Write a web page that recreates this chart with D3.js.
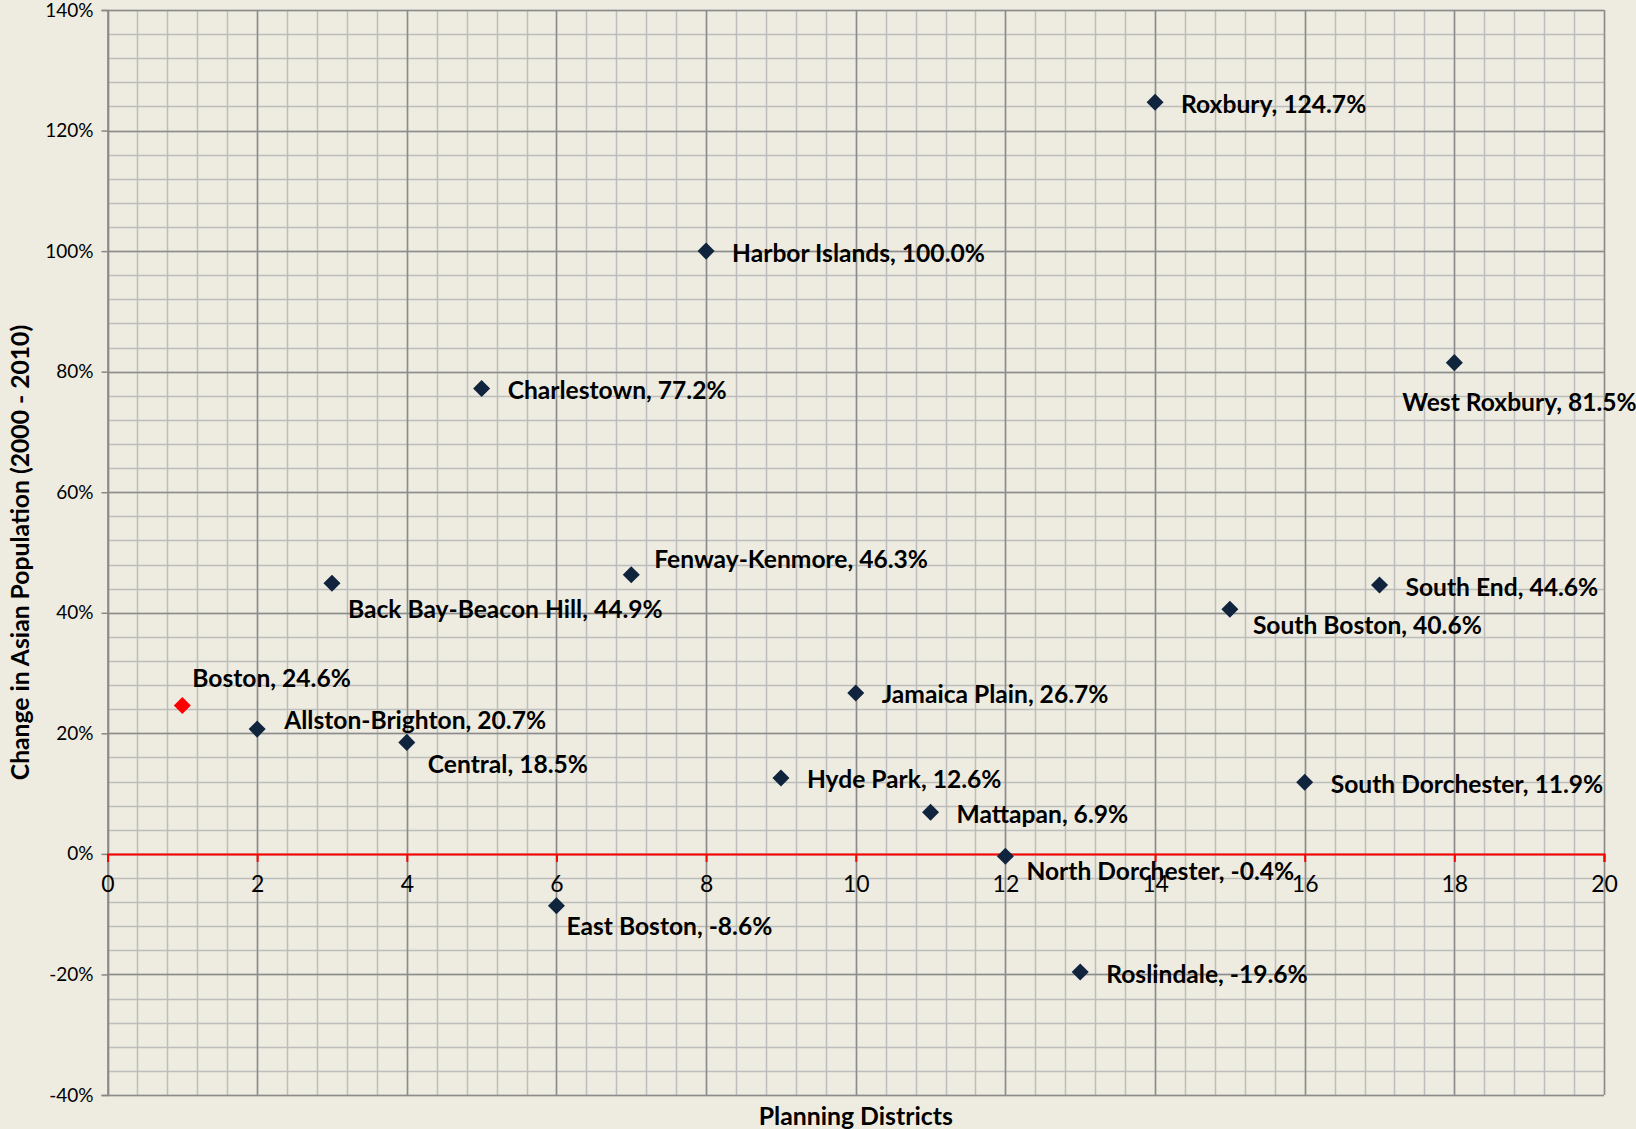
<!DOCTYPE html>
<html>
<head>
<meta charset="utf-8">
<script src="https://cdn.jsdelivr.net/npm/d3@7"></script>
<style>
  html, body { margin: 0; padding: 0; background: #EEECE1; overflow: hidden; }
  svg { display: block; }
</style>
</head>
<body>
<svg id="chart" width="1636" height="1129"></svg>
<script>
// ---- data ----
const districts = ["Boston", "Allston-Brighton", "Back Bay-Beacon Hill", "Central", "Charlestown",
  "East Boston", "Fenway-Kenmore", "Harbor Islands", "Hyde Park", "Jamaica Plain", "Mattapan",
  "North Dorchester", "Roslindale", "Roxbury", "South Boston", "South Dorchester", "South End", "West Roxbury"];
const xValues = [1, 2, 3, 4, 5, 6, 7, 8, 9, 10, 11, 12, 13, 14, 15, 16, 17, 18];
const changePct = [24.6, 20.7, 44.9, 18.5, 77.2, -8.6, 46.3, 100.0, 12.6, 26.7, 6.9,
  -0.4, -19.6, 124.7, 40.6, 11.9, 44.6, 81.5];
const xTicks = [0, 2, 4, 6, 8, 10, 12, 14, 16, 18, 20];
const yTicks = [-40, -20, 0, 20, 40, 60, 80, 100, 120, 140];
const xTitle = "Planning Districts";
const yTitle = "Change in Asian Population (2000 - 2010)";

// label placement (pixel offsets from marker), layout only
const labelOffsets = {
  "Boston": [10, -28], "Allston-Brighton": [27, -10], "Back Bay-Beacon Hill": [16, 25],
  "Central": [21, 21], "East Boston": [10, 20], "Fenway-Kenmore": [23, -16],
  "North Dorchester": [21, 14], "South Boston": [23, 15], "West Roxbury": [-52, 39]
};
const defaultOffset = [26, 1];

// ---- layout ----
const svg = d3.select("#chart");
const pLeft = 107.5, pRight = 1604, pTop = 10, pBottom = 1095;
const x = d3.scaleLinear().domain([0, 20]).range([pLeft, pRight]);
const y = d3.scaleLinear().domain([-40, 140]).range([pBottom, pTop]);

const font = "Lato, 'Open Sans', sans-serif";

svg.append("rect").attr("width", 1636).attr("height", 1129).attr("fill", "#EEECE1");

// minor grid
const g = svg.append("g");
const minorX = d3.range(0, 20.001, 0.4);
const minorY = d3.range(-40, 140.001, 4);
g.selectAll("line.mx").data(minorX).join("line")
  .attr("x1", d => Math.round(x(d)) + 0.5).attr("x2", d => Math.round(x(d)) + 0.5)
  .attr("y1", pTop).attr("y2", pBottom)
  .attr("stroke", "#BDBDBD").attr("stroke-width", 1.5);
g.selectAll("line.my").data(minorY).join("line")
  .attr("y1", d => Math.round(y(d)) + 0.5).attr("y2", d => Math.round(y(d)) + 0.5)
  .attr("x1", pLeft).attr("x2", pRight)
  .attr("stroke", "#BDBDBD").attr("stroke-width", 1.5);
// major grid
g.selectAll("line.Mx").data(xTicks).join("line")
  .attr("x1", d => Math.round(x(d)) + 0.5).attr("x2", d => Math.round(x(d)) + 0.5)
  .attr("y1", pTop).attr("y2", pBottom)
  .attr("stroke", "#8C8C8C").attr("stroke-width", 1.5);
g.selectAll("line.My").data(yTicks).join("line")
  .attr("y1", d => Math.round(y(d)) + 0.5).attr("y2", d => Math.round(y(d)) + 0.5)
  .attr("x1", pLeft).attr("x2", pRight)
  .attr("stroke", "#8C8C8C").attr("stroke-width", 1.5);

// y axis
const yAxis = svg.append("g").attr("transform", `translate(${pLeft},0)`)
  .call(d3.axisLeft(y).tickValues(yTicks).tickFormat(d => d + "%").tickSize(6).tickPadding(8));
yAxis.select(".domain").attr("stroke", "#868686").attr("stroke-width", 1.5);
yAxis.selectAll(".tick line").attr("stroke", "#868686").attr("stroke-width", 1.5);
yAxis.selectAll("text").attr("font-family", font).attr("font-size", 19).attr("fill", "#000");

// x axis (red, at y = 0)
const xAxis = svg.append("g").attr("transform", `translate(0,${y(0)})`)
  .call(d3.axisBottom(x).tickValues(xTicks).tickSize(8).tickSizeOuter(8).tickPadding(14));
xAxis.select(".domain").attr("stroke", "#FF0000").attr("stroke-width", 2);
xAxis.selectAll(".tick line").attr("stroke", "#FF0000").attr("stroke-width", 2);
xAxis.selectAll("text").attr("font-family", font).attr("font-size", 23).attr("fill", "#000");

// markers
const pts = districts.map((n, i) => ({ name: n, x: xValues[i], v: changePct[i] }));
const diamond = d3.symbol().type(d3.symbolDiamond2).size(185);
svg.append("g").selectAll("path").data(pts).join("path")
  .attr("d", diamond)
  .attr("transform", d => `translate(${x(d.x)},${y(d.v)})`)
  .attr("fill", d => d.name === "Boston" ? "#FF0000" : "#10243E");

// labels
svg.append("g").selectAll("text").data(pts).join("text")
  .attr("x", d => x(d.x) + (labelOffsets[d.name] || defaultOffset)[0])
  .attr("y", d => y(d.v) + (labelOffsets[d.name] || defaultOffset)[1])
  .attr("dominant-baseline", "central")
  .attr("font-family", font).attr("font-weight", "bold").attr("font-size", 24.6)
  .attr("fill", "#000")
  .text(d => `${d.name}, ${d.v.toFixed(1)}%`);

// titles
svg.append("text").attr("x", (pLeft + pRight) / 2).attr("y", 1115)
  .attr("text-anchor", "middle").attr("dominant-baseline", "central")
  .attr("font-family", font).attr("font-weight", "bold").attr("font-size", 24.8)
  .text(xTitle);
svg.append("text").attr("transform", `translate(19,${(pTop + pBottom) / 2}) rotate(-90)`)
  .attr("text-anchor", "middle").attr("dominant-baseline", "central")
  .attr("font-family", font).attr("font-weight", "bold").attr("font-size", 24.7)
  .text(yTitle);
</script>
</body>
</html>
